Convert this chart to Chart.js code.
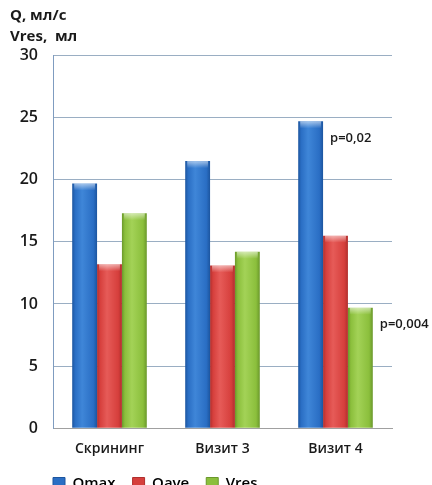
<!DOCTYPE html>
<html>
<head>
<meta charset="utf-8">
<script src="https://cdn.jsdelivr.net/npm/chart.js@4"></script>
<style>
  html, body { margin: 0; padding: 0; background: #fff; overflow: hidden; }
  #wrap { width: 432px; height: 511px; position: relative; }
</style>
</head>
<body>
<div id="wrap"><canvas id="chart"></canvas></div>
<script>
// данные
const categories = ['Скрининг', 'Визит 3', 'Визит 4'];
const qmax = [19.7, 21.5, 24.7];
const qave = [13.2, 13.1, 15.5];
const vres = [17.3, 14.2, 9.7];
const yTicks = [0, 5, 10, 15, 20, 25, 30];
const pLabels = [{ series: 0, index: 2, text: 'p=0,02' }, { series: 2, index: 2, text: 'p=0,004' }];

const FONT = '"Open Sans", "DejaVu Sans", sans-serif';
const LEGEND_PAD = 17;

// цвета серий: края, середина, блик
const shades = [
  ['#1c559f', '#2a6ec4', '#3f86d8'],
  ['#b02f2d', '#d63f3c', '#e65b58'],
  ['#6a982b', '#8bbf3c', '#a3d257']
];

// объёмная заливка столбцов: тёмные края, светлая середина, блик сверху
const bevelPlugin = {
  id: 'bevel',
  afterLayout(chart) {
    // легенда начинается от оси Y и прижата к подписям категорий
    chart.legend.left = chart.chartArea.left - LEGEND_PAD;
    chart.legend.top -= 10;
  },
  beforeDatasetsDraw(chart) {
    const c = chart.ctx;
    chart.data.datasets.forEach((ds, i) => {
      const s = shades[i];
      chart.getDatasetMeta(i).data.forEach(el => {
        const x0 = el.x - el.width / 2, x1 = el.x + el.width / 2;
        const g = c.createLinearGradient(x0, 0, x1, 0);
        g.addColorStop(0, s[0]);
        g.addColorStop(0.12, s[1]);
        g.addColorStop(0.4, s[2]);
        g.addColorStop(0.85, s[1]);
        g.addColorStop(1, s[0]);
        el.options.backgroundColor = g;
      });
    });
  },
  afterDatasetsDraw(chart) {
    const c = chart.ctx;
    c.save();
    chart.data.datasets.forEach((ds, i) => {
      chart.getDatasetMeta(i).data.forEach(el => {
        const x0 = el.x - el.width / 2;
        const g = c.createLinearGradient(0, el.y, 0, el.y + 7);
        g.addColorStop(0, 'rgba(255,255,255,0.55)');
        g.addColorStop(1, 'rgba(255,255,255,0)');
        c.fillStyle = g;
        c.fillRect(x0 + 2, el.y, el.width - 4, 7);
      });
    });
    c.restore();
  }
};

// подписи p-значений справа от вершины столбца
const pValuePlugin = {
  id: 'pValues',
  afterDatasetsDraw(chart) {
    const c = chart.ctx;
    c.save();
    c.font = '600 13px ' + FONT;
    c.fillStyle = '#1a1a1a';
    c.textBaseline = 'middle';
    pLabels.forEach(p => {
      const bar = chart.getDatasetMeta(p.series).data[p.index];
      c.fillText(p.text, bar.x + bar.width / 2 + 7, bar.y + 17);
    });
    c.restore();
  }
};

// scriptable цвет, чтобы у каждого столбца были свои options
const seriesColor = ctx => shades[ctx.datasetIndex][1];

new Chart(document.getElementById('chart'), {
  type: 'bar',
  data: {
    labels: categories,
    datasets: [
      { label: 'Qmax', data: qmax, backgroundColor: seriesColor, borderWidth: 0 },
      { label: 'Qave', data: qave, backgroundColor: seriesColor, borderWidth: 0 },
      { label: 'Vres', data: vres, backgroundColor: seriesColor, borderWidth: 0 }
    ]
  },
  options: {
    responsive: true,
    maintainAspectRatio: false,
    animation: false,
    layout: { padding: { left: 10, right: 40, top: 6, bottom: 0 } },
    datasets: {
      bar: { categoryPercentage: 0.66, barPercentage: 1.0 }
    },
    plugins: {
      title: {
        display: true,
        text: ['Q, мл/с', 'Vres,  мл'],
        align: 'start',
        color: '#1a1a1a',
        font: { family: FONT, size: 15, weight: '700', lineHeight: 1.35 },
        padding: { top: 0, bottom: 9 }
      },
      legend: {
        position: 'bottom',
        align: 'start',
        labels: {
          color: '#1a1a1a',
          font: { family: FONT, size: 15, weight: '600' },
          boxWidth: 12,
          boxHeight: 12,
          padding: LEGEND_PAD,
          generateLabels(chart) {
            return chart.data.datasets.map((ds, i) => ({
              text: ds.label,
              fillStyle: shades[i][1],
              strokeStyle: shades[i][0],
              lineWidth: 1,
              datasetIndex: i
            }));
          }
        }
      },
      tooltip: { enabled: false }
    },
    scales: {
      x: {
        grid: { display: false, drawTicks: false },
        border: { color: '#a0a0a0' },
        ticks: { color: '#1a1a1a', font: { family: FONT, size: 14, weight: '600' }, padding: 12 }
      },
      y: {
        min: 0,
        max: 30,
        afterBuildTicks(axis) { axis.ticks = yTicks.map(v => ({ value: v })); },
        afterFit(axis) { axis.width = 43; },
        grid: { color: '#9aaec3', drawTicks: false },
        border: { color: '#7f9cc0' },
        ticks: { color: '#1a1a1a', font: { family: FONT, size: 16, weight: '600' }, padding: 15 }
      }
    }
  },
  plugins: [bevelPlugin, pValuePlugin]
});
</script>
</body>
</html>
